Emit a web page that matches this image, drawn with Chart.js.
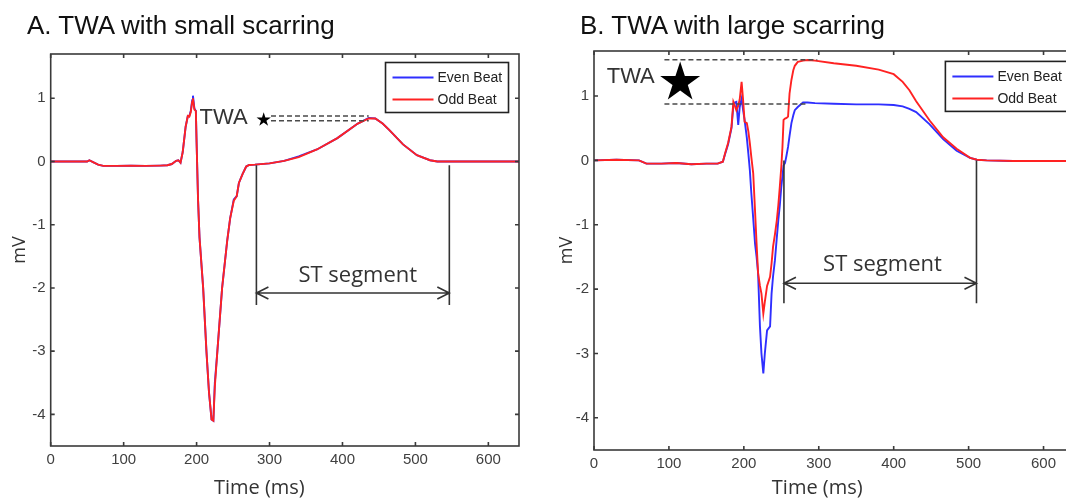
<!DOCTYPE html>
<html>
<head>
<meta charset="utf-8">
<script src="https://cdn.jsdelivr.net/npm/chart.js@4.4.0/dist/chart.umd.min.js"></script>
<style>
html, body { margin: 0; padding: 0; background: #fff; width: 1066px; height: 498px; overflow: hidden; }
canvas { position: absolute; top: 0; }
.ttl { position: absolute; font-family: 'Liberation Sans', Arial, sans-serif; font-size: 26px; line-height: 26px; color: #111; white-space: nowrap; }
</style>
</head>
<body>
<canvas id="chartA" width="533" height="498" style="left:0"></canvas>
<canvas id="chartB" width="549" height="498" style="left:540px"></canvas>
<div class="ttl" style="left:27px;top:12px">A. TWA with small scarring</div>
<div class="ttl" style="left:580px;top:12px">B. TWA with large scarring</div>
<script>
// A: small scarring (time in ms, voltage in mV)
const timeA = [0, 20, 40, 50, 53, 58, 65, 72, 90, 110, 130, 150, 160, 166, 172, 175, 178, 181, 185, 188, 190, 192, 194, 195, 197, 199, 200, 202, 204, 209, 213.5, 217, 220.5, 223, 225, 228.5, 235, 242, 246, 251, 255, 258, 263, 268, 272, 280, 300, 320, 340, 365, 393, 421, 436, 445, 455, 464, 483, 502, 520, 530, 545, 600, 642];
const evenA = [0, 0, 0, 0, 0.02, -0.01, -0.05, -0.07, -0.07, -0.065, -0.07, -0.065, -0.06, -0.04, 0.01, 0.02, -0.02, 0.15, 0.55, 0.72, 0.72, 0.8, 0.97, 1.04, 0.84, 0.8, 0.31, -0.6, -1.2, -2.0, -3.0, -3.65, -4.08, -4.1, -3.5, -3.0, -2.0, -1.25, -0.9, -0.6, -0.55, -0.34, -0.2, -0.08, -0.055, -0.05, -0.03, 0.01, 0.08, 0.19, 0.37, 0.6, 0.69, 0.68, 0.6, 0.5, 0.27, 0.1, 0.02, 0, 0, 0, 0];
const oddA = [0, 0, 0, 0, 0.02, -0.01, -0.05, -0.07, -0.07, -0.065, -0.07, -0.065, -0.06, -0.04, 0.01, 0.02, -0.02, 0.15, 0.55, 0.72, 0.71, 0.78, 0.95, 1.0, 0.82, 0.8, 0.3, -0.6, -1.2, -2.0, -3.0, -3.65, -4.08, -4.1, -3.56, -3.0, -2.0, -1.25, -0.9, -0.62, -0.55, -0.34, -0.2, -0.08, -0.055, -0.05, -0.03, 0.01, 0.07, 0.19, 0.37, 0.6, 0.68, 0.68, 0.6, 0.5, 0.27, 0.1, 0.02, 0, 0, 0, 0];

// B: large scarring
const timeB = [0, 30, 60, 70, 90, 110, 130, 150, 165, 172, 175, 179, 183.5, 186, 188, 190, 192.5, 194.5, 197, 199, 201, 204, 206, 208, 210, 212.5, 215, 217, 219, 221.5, 223.5, 226, 228, 231, 235, 237, 239, 241.5, 244, 246, 248, 250, 251.5, 253, 255, 257, 259, 261, 263.5, 266, 268, 272, 279, 285, 295, 320, 350, 380, 400, 412, 421, 430, 448, 466, 484, 502, 511, 524, 560, 600, 642];
const evenB = [0, 0.01, 0, -0.05, -0.05, -0.04, -0.06, -0.05, -0.05, -0.02, 0.1, 0.25, 0.5, 0.85, 0.9, 0.91, 0.55, 0.83, 0.96, 0.78, 0.63, 0.35, 0.11, -0.15, -0.51, -0.9, -1.3, -1.5, -1.75, -2.58, -3.0, -3.31, -3.0, -2.64, -2.58, -2.07, -1.8, -1.55, -1.2, -0.93, -0.7, -0.41, -0.25, -0.08, -0.04, 0.08, 0.21, 0.38, 0.58, 0.7, 0.78, 0.83, 0.9, 0.9, 0.89, 0.88, 0.87, 0.87, 0.86, 0.84, 0.8, 0.75, 0.56, 0.33, 0.15, 0.04, 0.01, 0, -0.01, -0.01, -0.01];
const oddB = [0, 0.01, 0, -0.05, -0.05, -0.04, -0.06, -0.05, -0.05, -0.02, 0.11, 0.27, 0.52, 0.91, 0.85, 0.78, 0.85, 0.95, 1.22, 0.94, 0.6, 0.58, 0.45, 0.27, 0.05, -0.2, -0.8, -1.29, -1.75, -1.95, -2.07, -2.38, -2.2, -1.95, -1.81, -1.6, -1.34, -1.15, -0.93, -0.7, -0.41, -0.1, 0.2, 0.63, 0.65, 0.66, 0.68, 1.04, 1.25, 1.4, 1.47, 1.53, 1.55, 1.56, 1.55, 1.51, 1.47, 1.41, 1.34, 1.22, 1.09, 0.92, 0.62, 0.36, 0.18, 0.04, 0.01, 0, -0.01, -0.01, -0.01];

const seriesNames = ['Even Beat', 'Odd Beat'];
const xTicks = [0, 100, 200, 300, 400, 500, 600];
const yTicks = [-4, -3, -2, -1, 0, 1];

const BLUE = '#2f2fff';
const RED = '#ff2222';
const INK = '#333333';
const tickFont = { family: "'Liberation Sans', Arial, sans-serif", size: 15 };

function star(ctx, cx, cy, r) {
  ctx.beginPath();
  for (let i = 0; i < 10; i++) {
    const rad = i % 2 ? r * 0.382 : r;
    const ang = -Math.PI / 2 + i * Math.PI / 5;
    ctx.lineTo(cx + rad * Math.cos(ang), cy + rad * Math.sin(ang));
  }
  ctx.closePath();
  ctx.fill();
}

function arrowHead(ctx, px, py, dir) {
  ctx.moveTo(px + dir * 12, py - 6);
  ctx.lineTo(px, py);
  ctx.lineTo(px + dir * 12, py + 6);
}

// matlab style frame, inward ticks, legend box and annotations
const matlabBox = {
  id: 'matlabBox',
  afterDatasetsDraw(chart, args, m) {
    const { ctx, chartArea: a } = chart;
    const x = chart.scales.x, y = chart.scales.y;
    const X = v => x.getPixelForValue(v), Y = v => y.getPixelForValue(v);
    ctx.save();

    // dashed TWA lines
    ctx.strokeStyle = '#4a4a4a';
    ctx.lineWidth = 1.5;
    ctx.setLineDash([5, 3]);
    m.dashes.forEach(d => {
      ctx.beginPath();
      ctx.moveTo(X(d[0]), Y(d[2]));
      ctx.lineTo(X(d[1]), Y(d[2]));
      ctx.stroke();
    });
    ctx.setLineDash([]);

    // TWA label + star
    ctx.fillStyle = INK;
    ctx.font = '22px "Liberation Sans", Arial, sans-serif';
    ctx.textAlign = 'left';
    ctx.textBaseline = 'middle';
    ctx.fillText('TWA', X(m.twa[0]), Y(m.twa[1]));
    ctx.fillStyle = '#000';
    star(ctx, X(m.star[0]), Y(m.star[1]), m.star[2]);

    // ST segment
    const st = m.st;
    ctx.strokeStyle = INK;
    ctx.lineWidth = 1.6;
    ctx.beginPath();
    ctx.moveTo(X(st.x0), Y(st.top)); ctx.lineTo(X(st.x0), Y(st.bottom));
    ctx.moveTo(X(st.x1), Y(st.top)); ctx.lineTo(X(st.x1), Y(st.bottom));
    ctx.moveTo(X(st.x0), Y(st.arrow)); ctx.lineTo(X(st.x1), Y(st.arrow));
    arrowHead(ctx, X(st.x0), Y(st.arrow), 1);
    arrowHead(ctx, X(st.x1), Y(st.arrow), -1);
    ctx.stroke();
    ctx.fillStyle = INK;
    ctx.font = '22px "Open Sans", sans-serif';
    ctx.textAlign = 'center';
    ctx.fillText('ST segment', X(st.label[0]), Y(st.label[1]));

    // x axis title
    ctx.font = '20px "Open Sans", sans-serif';
    ctx.textBaseline = 'alphabetic';
    ctx.fillText('Time (ms)', X(m.xTitle), chart.height - 4);

    // frame with inward ticks on all sides
    ctx.strokeStyle = '#3a3a3a';
    ctx.lineWidth = 1.6;
    ctx.strokeRect(a.left, a.top, a.right - a.left, a.bottom - a.top);
    ctx.beginPath();
    xTicks.forEach(v => {
      ctx.moveTo(X(v), a.bottom); ctx.lineTo(X(v), a.bottom - 4);
      ctx.moveTo(X(v), a.top); ctx.lineTo(X(v), a.top + 4);
    });
    yTicks.forEach(v => {
      ctx.moveTo(a.left, Y(v)); ctx.lineTo(a.left + 4, Y(v));
      ctx.moveTo(a.right, Y(v)); ctx.lineTo(a.right - 4, Y(v));
    });
    ctx.stroke();

    // legend box
    const lx = X(m.legend[0]), ly = a.top + m.legend[1];
    ctx.fillStyle = '#fff';
    ctx.fillRect(lx, ly, 123, 50);
    ctx.strokeStyle = '#222';
    ctx.lineWidth = 1.6;
    ctx.strokeRect(lx, ly, 123, 50);
    ctx.font = '14px ' + tickFont.family;
    ctx.textAlign = 'left';
    ctx.textBaseline = 'middle';
    chart.data.datasets.forEach((ds, i) => {
      const ry = ly + 15 + i * 22;
      ctx.strokeStyle = ds.borderColor;
      ctx.lineWidth = 2;
      ctx.beginPath();
      ctx.moveTo(lx + 7, ry); ctx.lineTo(lx + 48, ry);
      ctx.stroke();
      ctx.fillStyle = '#222';
      ctx.fillText(ds.label, lx + 52, ry + 1);
    });
    ctx.restore();
  }
};

function makeChart(id, time, even, odd, cfg) {
  const pts = vals => time.map((t, i) => ({ x: t, y: vals[i] }));
  return new Chart(document.getElementById(id), {
    type: 'line',
    data: {
      datasets: [
        { label: seriesNames[0], data: pts(even), borderColor: BLUE, borderWidth: 1.9, pointRadius: 0, tension: 0, order: 1 },
        { label: seriesNames[1], data: pts(odd), borderColor: RED, borderWidth: 1.9, pointRadius: 0, tension: 0, order: 0 }
      ]
    },
    options: {
      responsive: false,
      animation: false,
      events: [],
      layout: { padding: { left: 0, right: cfg.padRight, top: cfg.padTop, bottom: cfg.padBottom } },
      plugins: { legend: { display: false }, tooltip: { enabled: false }, matlabBox: cfg.marks },
      scales: {
        x: {
          type: 'linear', min: 0, max: 642,
          afterBuildTicks: s => { s.ticks = xTicks.map(v => ({ value: v })); },
          afterFit: s => { s.height = 30; },
          grid: { display: false, drawTicks: false },
          border: { display: false },
          ticks: { padding: 5, font: tickFont, color: '#404040', autoSkip: false, maxRotation: 0 }
        },
        y: {
          type: 'linear', min: -4.5, max: 1.7,
          afterBuildTicks: s => { s.ticks = yTicks.map(v => ({ value: v })); },
          afterFit: s => { s.width = cfg.yWidth; },
          grid: { display: false, drawTicks: false },
          border: { display: false },
          ticks: { padding: 5, font: tickFont, color: '#404040' },
          title: { display: true, text: 'mV', color: INK, font: { family: "'Open Sans', sans-serif", size: 18 }, padding: { top: cfg.yTitlePad, bottom: 0 } }
        }
      }
    },
    plugins: [matlabBox]
  });
}

makeChart('chartA', timeA, evenA, oddA, {
  padRight: 14, padTop: 54, padBottom: 22, yWidth: 50.7, yTitlePad: 9,
  marks: {
    twa: [204, 0.69], star: [292, 0.66, 7.5],
    dashes: [[302, 436, 0.72], [302, 436, 0.645]],
    st: { x0: 282, x1: 546.5, top: -0.06, bottom: -2.27, arrow: -2.08, label: [421, -1.8] },
    legend: [459, 8.5], xTitle: 286
  }
});

makeChart('chartB', timeB, evenB, oddB, {
  padRight: 14, padTop: 51, padBottom: 18, yWidth: 54, yTitlePad: 16,
  marks: {
    twa: [17, 1.29], star: [115, 1.21, 21],
    dashes: [[94, 298, 1.565], [94, 284, 0.876]],
    st: { x0: 253.5, x1: 510.5, top: 0, bottom: -2.22, arrow: -1.91, label: [385, -1.62] },
    legend: [469, 10.4], xTitle: 298
  }
});
</script>
</body>
</html>
